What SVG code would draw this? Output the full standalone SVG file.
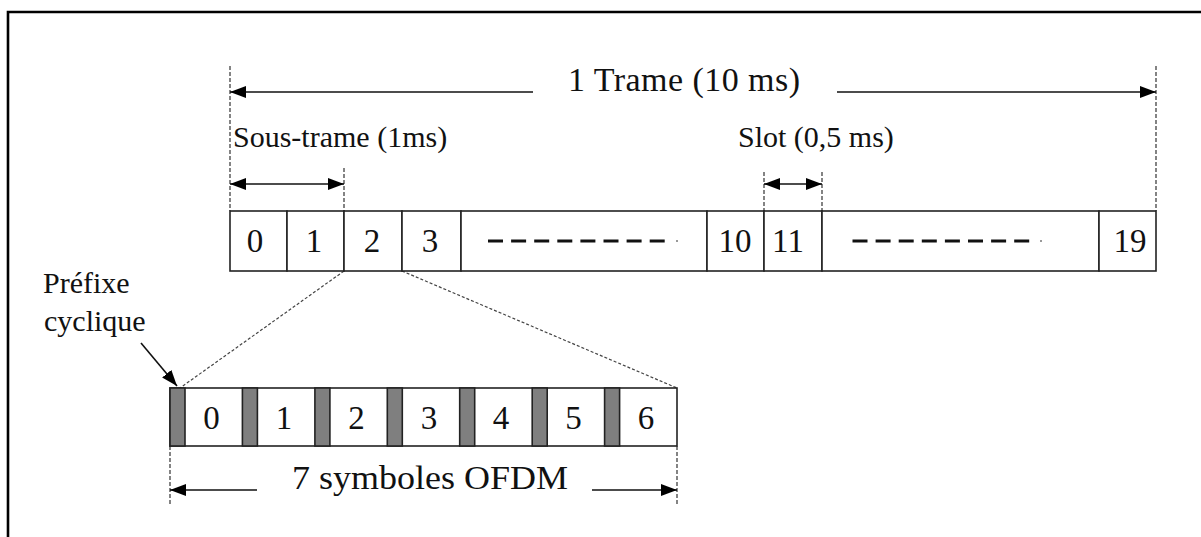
<svg xmlns="http://www.w3.org/2000/svg" width="1201" height="537" viewBox="0 0 1201 537">
<style>
.t{font-family:"Liberation Serif","Times New Roman",serif;fill:#111}
.cell{fill:#fff;stroke:#222;stroke-width:1.6}
.cp{fill:#7f7f7f;stroke:#222;stroke-width:1.6}
.ln{stroke:#111;stroke-width:1.6;fill:none}
.vd{stroke:#333;stroke-width:1.2;stroke-dasharray:4 2;fill:none}
.zd{stroke:#444;stroke-width:1.2;stroke-dasharray:3 2;fill:none}
.dd{stroke:#111;stroke-width:3;stroke-dasharray:15 8.1;fill:none}
</style>
<defs>
<marker id="ah" markerUnits="userSpaceOnUse" viewBox="0 0 16 12" markerWidth="16" markerHeight="12" refX="16" refY="6" orient="auto-start-reverse">
<path d="M0,0 L16,6 L0,12 z" fill="#000"/>
</marker>
</defs>
<rect width="1201" height="537" fill="#fff"/>
<path d="M8,537 V12 H1201" fill="none" stroke="#000" stroke-width="2.6"/>

<g id="connectors">
<line class="vd" x1="230" y1="66" x2="230" y2="211"/>
<line class="vd" x1="1156" y1="66" x2="1156" y2="211"/>
<line class="vd" x1="344" y1="168" x2="344" y2="211"/>
<line class="vd" x1="764" y1="172" x2="764" y2="211"/>
<line class="vd" x1="822" y1="172" x2="822" y2="211"/>
<line class="ln" x1="533" y1="92" x2="230" y2="92" marker-end="url(#ah)"/>
<line class="ln" x1="837" y1="92" x2="1156" y2="92" marker-end="url(#ah)"/>
<line class="ln" x1="230" y1="184" x2="344" y2="184" marker-start="url(#ah)" marker-end="url(#ah)"/>
<line class="ln" x1="764" y1="184" x2="822" y2="184" marker-start="url(#ah)" marker-end="url(#ah)"/>
<line class="zd" x1="344" y1="271" x2="180" y2="388"/>
<line class="zd" x1="402" y1="271" x2="677" y2="388"/>
<line class="ln" x1="141" y1="343" x2="177" y2="386" marker-end="url(#ah)"/>
<line class="vd" x1="170" y1="446" x2="170" y2="505"/>
<line class="vd" x1="677" y1="446" x2="677" y2="505"/>
<line class="ln" x1="257" y1="490" x2="170" y2="490" marker-end="url(#ah)"/>
<line class="ln" x1="592" y1="490" x2="677" y2="490" marker-end="url(#ah)"/>
</g>

<g id="label-trame"><text class="t" x="568" y="91" font-size="34" textLength="232">1 Trame (10 ms)</text></g>
<g id="label-soustrame"><text class="t" x="233" y="147" font-size="30">Sous-trame (1ms)</text></g>
<g id="label-slot"><text class="t" x="738" y="147" font-size="30">Slot (0,5 ms)</text></g>
<g id="label-prefixe"><text class="t" x="43" y="293" font-size="30">Préfixe</text><text class="t" x="44" y="331" font-size="30">cyclique</text></g>

<g id="frame">
<rect class="cell" x="230" y="211" width="57" height="60"/>
<rect class="cell" x="287" y="211" width="57" height="60"/>
<rect class="cell" x="344" y="211" width="58" height="60"/>
<rect class="cell" x="402" y="211" width="59" height="60"/>
<rect class="cell" x="461" y="211" width="246" height="60"/>
<rect class="cell" x="707" y="211" width="57" height="60"/>
<rect class="cell" x="764" y="211" width="58" height="60"/>
<rect class="cell" x="822" y="211" width="277" height="60"/>
<rect class="cell" x="1099" y="211" width="57" height="60"/>
<line class="dd" x1="488" y1="241" x2="665" y2="241"/>
<line x1="676" y1="241" x2="678" y2="241" stroke="#999" stroke-width="2"/>
<line class="dd" x1="852.5" y1="241" x2="1029.5" y2="241"/>
<line x1="1040" y1="241" x2="1042" y2="241" stroke="#999" stroke-width="2"/>
<g class="t" font-size="33" text-anchor="middle">
<text x="255" y="252">0</text>
<text x="314" y="252">1</text>
<text x="372" y="252">2</text>
<text x="430" y="252">3</text>
<text x="735" y="252">10</text>
<text x="788" y="252">11</text>
<text x="1130" y="252">19</text>
</g>
</g>

<g id="ofdm">
<rect class="cell" x="170" y="388" width="507" height="58"/>
<rect class="cp" x="170" y="388" width="15" height="58"/>
<rect class="cp" x="242.4" y="388" width="15" height="58"/>
<rect class="cp" x="314.9" y="388" width="15" height="58"/>
<rect class="cp" x="387.3" y="388" width="15" height="58"/>
<rect class="cp" x="459.7" y="388" width="15" height="58"/>
<rect class="cp" x="532.2" y="388" width="15" height="58"/>
<rect class="cp" x="604.6" y="388" width="15" height="58"/>
<g class="t" font-size="33" text-anchor="middle">
<text x="211.5" y="429">0</text>
<text x="284" y="429">1</text>
<text x="356.5" y="429">2</text>
<text x="429" y="429">3</text>
<text x="501" y="429">4</text>
<text x="573.5" y="429">5</text>
<text x="646" y="429">6</text>
</g>
<text class="t" x="292" y="489" font-size="34" textLength="276" lengthAdjust="spacingAndGlyphs">7 symboles OFDM</text>
</g>
</svg>
